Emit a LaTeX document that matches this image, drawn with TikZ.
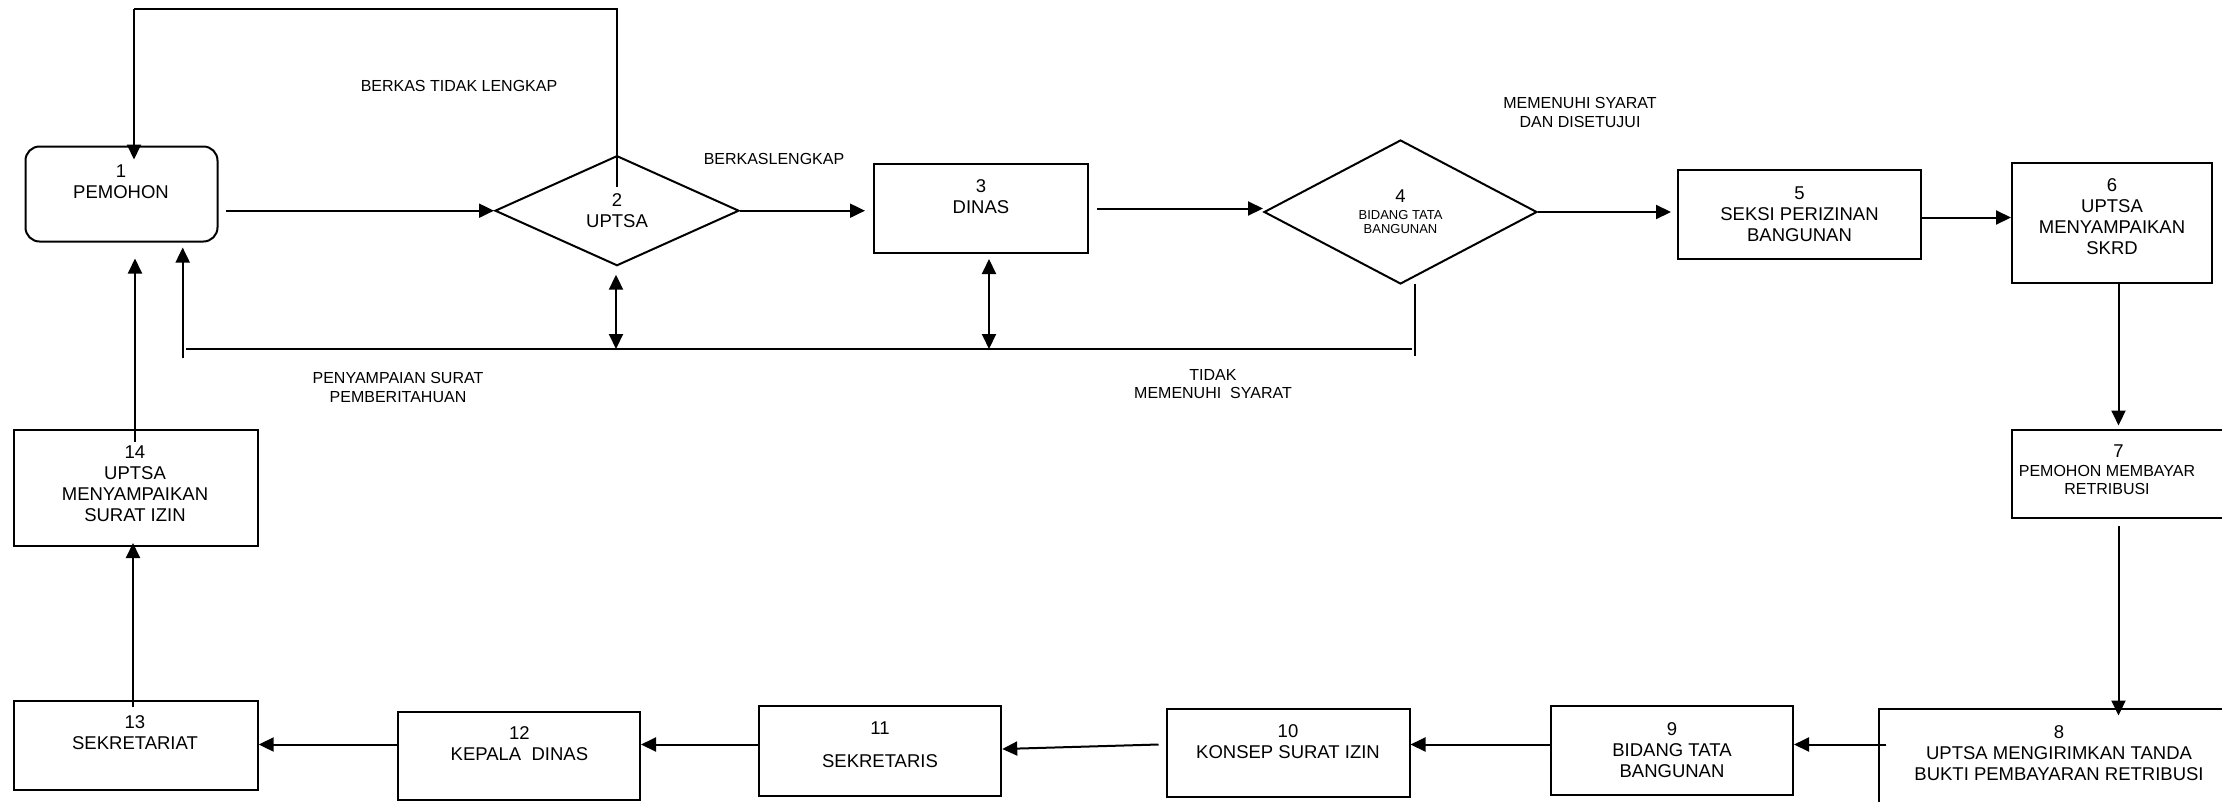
\documentclass[tikz,border=0pt]{standalone}
\usepackage{fontspec}
\setmainfont{Liberation Sans}
\usetikzlibrary{arrows.meta,shapes.geometric,calc}

\newcommand{\boxfont}{\fontsize{18.5}{21}\selectfont}
\newcommand{\lblfont}{\fontsize{16}{18.5}\selectfont}
\newcommand{\dgfont}{\fontsize{13}{14}\selectfont}

\tikzset{every picture/.style={line width=2pt}}

\begin{document}
\begin{tikzpicture}[x=1pt,y=1pt,yscale=-1,
    box/.style={draw,rectangle,inner sep=0pt,align=center,font=\boxfont},
    rhomb/.style={draw,diamond,aspect=2,inner sep=0pt,align=center,font=\boxfont},
    txt/.style={inner sep=0pt,align=center,font=\boxfont},
    lbl/.style={inner sep=0pt,align=center,font=\lblfont},
    arr/.style={-{Triangle[length=15pt,width=14pt]}},
    arr2/.style={{Triangle[length=15pt,width=14pt]}-{Triangle[length=15pt,width=14pt]}}]
    \useasboundingbox (0,0) rectangle (2222,801);

    % upper row
    \node[box,rounded corners=14pt,minimum width=192pt,minimum height=95pt] (pem) at (121.5,194) {};
    \node[txt] (t1) at (121,182) {1\\PEMOHON};
    \node[rhomb,minimum width=244pt,minimum height=110pt] (d2) at (617,210.7) {2\\UPTSA};
    \node[box,minimum width=214pt,minimum height=89pt] (dinas) at (981,208.5) {};
    \node[txt] (t3) at (981,197) {3\\DINAS};
    \node[rhomb,minimum width=273pt,minimum height=144pt,font=\dgfont] (d4) at (1400.5,212) {{\boxfont 4}\\[3pt]BIDANG TATA\\BANGUNAN};
    \node[box,minimum width=243pt,minimum height=89pt] (b5) at (1799.5,214.5) {5\\SEKSI PERIZINAN\\BANGUNAN};
    \node[box,minimum width=200pt,minimum height=120.6pt] (b6) at (2112,223) {};
    \node[txt] (t6) at (2112,216.5) {6\\UPTSA\\MENYAMPAIKAN\\SKRD};

    % right column
    \node[box,minimum width=238pt,minimum height=88pt] (b7) at (2131,474) {};
    \node[txt,font=\lblfont] (t7) at (2107,470) {\hspace*{23pt}{\boxfont 7}\\PEMOHON MEMBAYAR\\RETRIBUSI};
    \node[box,minimum width=380pt,minimum height=110pt] (b8) at (2069,764) {};
    \node[txt] (t8) at (2059,753) {8\\UPTSA MENGIRIMKAN TANDA\\BUKTI PEMBAYARAN RETRIBUSI};

    % lower row
    \node[box,minimum width=242pt,minimum height=89pt] (b9) at (1672,750.5) {9\\BIDANG TATA\\BANGUNAN};
    \node[box,minimum width=243pt,minimum height=88pt] (b10) at (1288,753) {};
    \node[txt] (t10) at (1288,741.7) {10\\KONSEP SURAT IZIN};
    \node[box,minimum width=242.5pt,minimum height=90pt] (b11) at (880,751) {};
    \node[txt] (t11) at (880,744.5) {11\\[11.5pt]SEKRETARIS};
    \node[box,minimum width=242pt,minimum height=88pt] (b12) at (519,756) {};
    \node[txt] (t12) at (519.4,744) {12\\KEPALA\ \ DINAS};
    \node[box,minimum width=243.4pt,minimum height=89pt] (b13) at (136,745.5) {};
    \node[txt] (t13) at (135,733) {13\\SEKRETARIAT};
    \node[box,minimum width=243.4pt,minimum height=116pt] (b14) at (136,488) {};
    \node[txt] (t14) at (135,483.7) {14\\UPTSA\\MENYAMPAIKAN\\SURAT IZIN};

    % labels
    \node[lbl] (l1) at (459,86) {BERKAS TIDAK LENGKAP};
    \node[lbl] (l2) at (774,159) {BERKASLENGKAP};
    \node[lbl] (l3) at (1580,112.6) {MEMENUHI SYARAT\\DAN DISETUJUI};
    \node[lbl] (l4) at (1213,384) {TIDAK\\MEMENUHI\ \ SYARAT};
    \node[lbl] (l5) at (398,387.5) {PENYAMPAIAN SURAT\\PEMBERITAHUAN};

    % flow
    \coordinate (tl) at (134,9.3);
    \draw ($(d2.center)+(0,-24)$) -- (d2.center |- tl) -- (tl);
    \draw[arr] (tl) -- ($(tl |- pem.north)+(0,14)$);
    \draw[arr] ($(pem.east |- d2)+(7.5,0)$) -- (d2.west);
    \draw[arr] (d2.east) -- ($(d2.east -| dinas.west)+(-8,0)$);
    \draw[arr] ($(dinas.east)+(8,0)$) -- (dinas.east -| d4.west);
    \draw[arr] (d4.east) -- ($(d4.east -| b5.west)+(-6,0)$);
    \draw[arr] ($(b5.east)+(-2,3)$) -- ($(b6.west |- b5.east)+(0,3)$);
    \draw[arr] ($(b6.south)+(6.5,0)$) -- ($(b6.south |- b7.north)+(6.5,-3.5)$);
    \draw[arr] ($(b6.south |- b7.south)+(6.5,7)$) -- ($(b6.south |- b8.north)+(6.5,7.5)$);

    \coordinate (row) at (0,744.5);
    \draw[arr] ($(b8.west |- row)+(8,0)$) -- (b9.east |- row);
    \draw[arr] (b9.west |- row) -- (b10.east |- row);
    \draw[arr] ($(b10.west |- row)+(-7,0)$) -- ($(b11.east |- row)+(0,4.5)$);
    \draw[arr] (b11.west |- row) -- (b12.east |- row);
    \draw[arr] (b12.west |- row) -- (b13.east |- row);
    \draw[arr] ($(b13.north)+(-3,7)$) -- ($(b14.south)+(-3,-4)$);
    \draw[arr] ($(b14.north)+(-1,13)$) -- ($(b14.north |- pem.south)+(-1,16)$);

    % feedback line
    \coordinate (fbl) at (186,349);
    \coordinate (fbr) at (1412,349);
    \draw ($(d4.south)+(14.3,-1)$) -- ++(0,72);
    \draw (fbr) -- (fbl);
    \draw[arr] ($(fbl)+(-3.3,9)$) -- ($(fbl |- pem.south)+(-3.3,5)$);
    \draw[arr2] ($(d2.south)+(-1,8)$) -- ($(d2.south |- fbl)+(-1,0)$);
    \draw[arr2] ($(dinas.south)+(8,5)$) -- ($(dinas.south |- fbl)+(8,0)$);
\end{tikzpicture}
\end{document}
